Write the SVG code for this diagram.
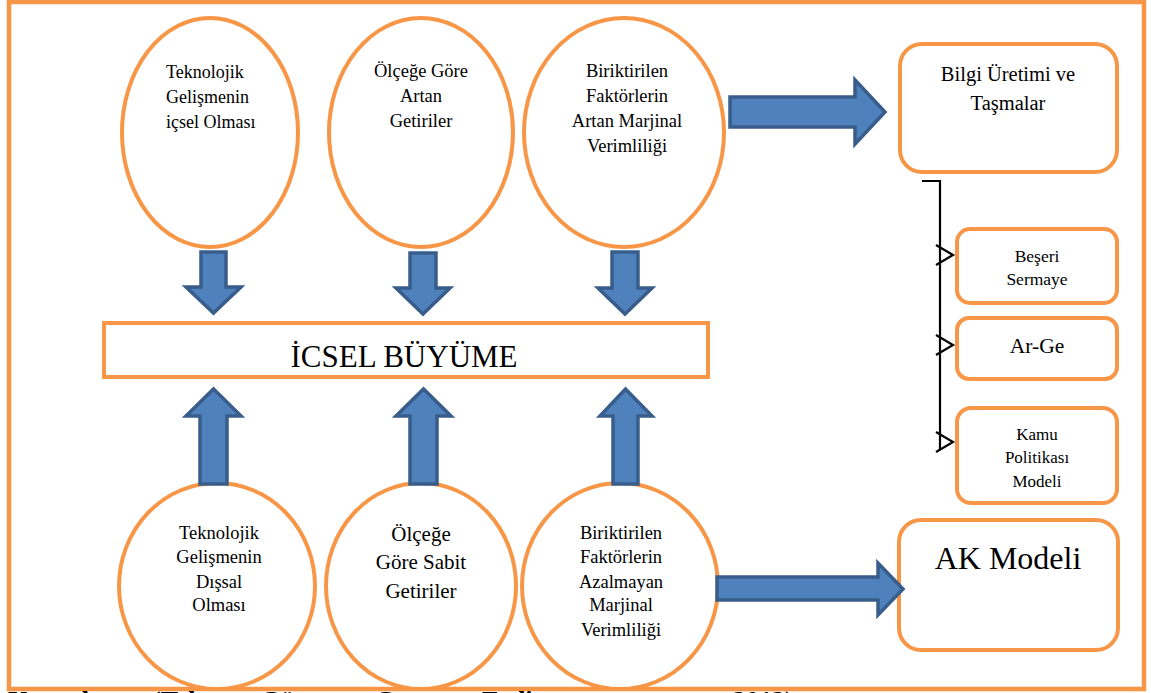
<svg xmlns="http://www.w3.org/2000/svg" width="1151" height="693" viewBox="0 0 1151 693">
<style>
.frame{fill:#fff;stroke:#F79646;stroke-width:4.5}
.o{fill:#fff;stroke:#F79646;stroke-width:4}
.t{font-family:"Liberation Serif","Times New Roman",serif;fill:#000;text-anchor:middle}
.l{text-anchor:start}
.ar{fill:#4F81BD;stroke:#385D8A;stroke-width:3.5;stroke-linejoin:miter}
.br{fill:none;stroke:#000;stroke-width:2.2}
</style>
<rect class="frame" x="9" y="2" width="1135" height="687"/>
<text class="t l" x="8" y="709" font-size="26" font-weight="bold">Kaynak:<tspan x="152">(Taban,</tspan><tspan x="260">Gürcan,</tspan><tspan x="375">Ceran,</tspan><tspan x="482">Erdinç,</tspan><tspan x="733">2012)</tspan></text>

<g id="n-tek-icsel">
<ellipse class="o" cx="210" cy="132.5" rx="88" ry="114.5"/>
<text class="t l" font-size="18" x="166" y="78">Teknolojik</text>
<text class="t l" font-size="18" x="166" y="103">Gelişmenin</text>
<text class="t l" font-size="18" x="166" y="128">içsel Olması</text>
</g>
<g id="n-olcek-artan">
<ellipse class="o" cx="421" cy="132.5" rx="92" ry="114.5"/>
<text class="t" font-size="18.5" x="421" y="77">Ölçeğe Göre</text>
<text class="t" font-size="18.5" x="421" y="102">Artan</text>
<text class="t" font-size="18.5" x="421" y="127">Getiriler</text>
</g>
<g id="n-artan-marjinal">
<ellipse class="o" cx="624" cy="132.5" rx="100" ry="114.5"/>
<text class="t" font-size="18.5" x="627" y="77">Biriktirilen</text>
<text class="t" font-size="18.5" x="627" y="102">Faktörlerin</text>
<text class="t" font-size="18.5" x="627" y="127">Artan Marjinal</text>
<text class="t" font-size="18.5" x="627" y="152">Verimliliği</text>
</g>
<g id="n-icsel-buyume">
<rect class="o" x="104" y="323" width="604" height="54"/>
<text class="t" font-size="31" x="404" y="367">İCSEL BÜYÜME</text>
</g>
<g id="n-tek-dissal">
<ellipse class="o" cx="217" cy="586" rx="98" ry="103"/>
<text class="t" font-size="18.5" x="219" y="539">Teknolojik</text>
<text class="t" font-size="18.5" x="219" y="563">Gelişmenin</text>
<text class="t" font-size="18.5" x="219" y="588">Dışsal</text>
<text class="t" font-size="18.5" x="219" y="611">Olması</text>
</g>
<g id="n-olcek-sabit">
<ellipse class="o" cx="421" cy="586" rx="95" ry="103"/>
<text class="t" font-size="21" x="421" y="541">Ölçeğe</text>
<text class="t" font-size="21" x="421" y="569">Göre Sabit</text>
<text class="t" font-size="21" x="421" y="598">Getiriler</text>
</g>
<g id="n-azalmayan">
<ellipse class="o" cx="620" cy="586" rx="98" ry="103"/>
<text class="t" font-size="18.5" x="621" y="539">Biriktirilen</text>
<text class="t" font-size="18.5" x="621" y="563">Faktörlerin</text>
<text class="t" font-size="18.5" x="621" y="588">Azalmayan</text>
<text class="t" font-size="18.5" x="621" y="611">Marjinal</text>
<text class="t" font-size="18.5" x="621" y="636">Verimliliği</text>
</g>
<g id="n-bilgi">
<rect class="o" x="900" y="44" width="217" height="128" rx="22"/>
<text class="t" font-size="20.5" x="1008" y="81">Bilgi Üretimi ve</text>
<text class="t" font-size="20.5" x="1008" y="110">Taşmalar</text>
</g>
<g id="n-beseri">
<rect class="o" x="957" y="229" width="160" height="74" rx="13"/>
<text class="t" font-size="17.5" x="1037" y="262">Beşeri</text>
<text class="t" font-size="17.5" x="1037" y="285">Sermaye</text>
</g>
<g id="n-arge">
<rect class="o" x="957" y="318" width="160" height="61" rx="12"/>
<text class="t" font-size="21.5" x="1037" y="353">Ar-Ge</text>
</g>
<g id="n-kamu">
<rect class="o" x="957" y="408" width="160" height="95" rx="14"/>
<text class="t" font-size="17" x="1037" y="440">Kamu</text>
<text class="t" font-size="17" x="1037" y="463">Politikası</text>
<text class="t" font-size="17" x="1037" y="487">Modeli</text>
</g>
<g id="n-ak">
<rect class="o" x="899" y="520" width="219" height="130" rx="22"/>
<text class="t" font-size="32" x="1008" y="569">AK Modeli</text>
</g>

<g id="connectors">
<polygon class="ar" points="201,252 226,252 226,287 241,287 213.5,313 186,287 201,287"/>
<polygon class="ar" points="410,253 436,253 436,288 450,288 423,314 396,288 410,288"/>
<polygon class="ar" points="612,252 638,252 638,288 652,288 625,314 598,288 612,288"/>
<polygon class="ar" points="200,484 227,484 227,416 241,416 213.5,389 186,416 200,416"/>
<polygon class="ar" points="410,484 437,484 437,416 451,416 423.5,389 396,416 410,416"/>
<polygon class="ar" points="613,484 638,484 638,416 652,416 625.5,389 600,416 613,416"/>
<polygon class="ar" points="730,97 855,97 855,80 885,112 855,144 855,127 730,127"/>
<polygon class="ar" points="717,577 878,577 878,563 903,589 878,615 878,600 717,600"/>
<path class="br" d="M922,181 H940 V450"/>
<polyline class="br" points="936,245 953,255 936,265"/>
<polyline class="br" points="936,335 953,345 936,355"/>
<polyline class="br" points="936,432 953,442 936,452"/>
</g>
</svg>
